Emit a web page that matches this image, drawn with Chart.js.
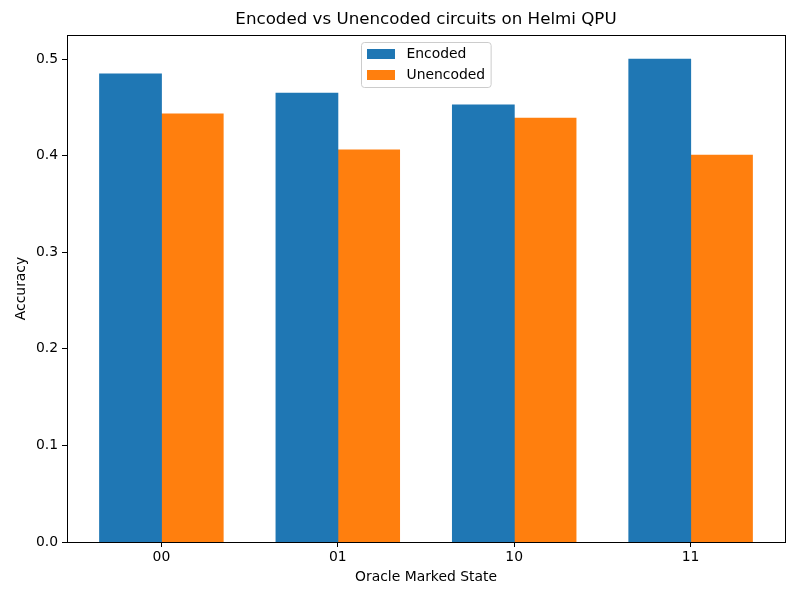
<!DOCTYPE html>
<html>
<head>
<meta charset="utf-8">
<script src="https://cdn.jsdelivr.net/npm/chart.js@4/dist/chart.umd.min.js"></script>
<style>
  html, body { margin: 0; padding: 0; background: #fff; }
  #wrap { width: 800px; height: 600px; }
</style>
</head>
<body>
<div id="wrap"><canvas id="grafico" width="800" height="600"></canvas></div>
<script>
const estados = ['00', '01', '10', '11'];
const codificado = [0.4845, 0.4648, 0.4524, 0.5000];
const naoCodificado = [0.4431, 0.4058, 0.4389, 0.4006];
const ticksY = [0.0, 0.1, 0.2, 0.3, 0.4, 0.5];
const titulo = 'Encoded vs Unencoded circuits on Helmi QPU';

const fonte = 'DejaVu Sans';

// moldura completa e titulo centrado sobre a area do grafico (estilo matplotlib)
const moldura = {
    id: 'moldura',
    afterDatasetsDraw(chart) {
        const { ctx, chartArea: a } = chart;
        ctx.save();
        ctx.strokeStyle = '#000';
        ctx.lineWidth = 1;
        ctx.strokeRect(Math.round(a.left) + 0.5, Math.round(a.top) + 0.5,
            Math.round(a.right - a.left), Math.round(a.bottom - a.top));
        ctx.fillStyle = '#000';
        ctx.font = `16.7px "${fonte}"`;
        ctx.textAlign = 'center';
        ctx.textBaseline = 'middle';
        ctx.fillText(titulo, (a.left + a.right) / 2, 20);
        ctx.restore();
    }
};

// legenda dentro da area, no topo e centralizada
const legenda = {
    id: 'legendaInterna',
    afterDraw(chart) {
        const { ctx, chartArea: a } = chart;
        const itens = chart.data.datasets;
        ctx.save();
        ctx.font = `13.9px "${fonte}"`;
        const larguraTexto = Math.max(...itens.map(d => ctx.measureText(d.label).width));
        const largura = 45 + larguraTexto + 6;
        const altura = 45;
        const x = Math.round((a.left + a.right) / 2 - largura / 2) + 0.5;
        const y = Math.round(a.top + 7) + 0.5;
        ctx.fillStyle = 'rgba(255,255,255,0.8)';
        ctx.strokeStyle = '#cccccc';
        ctx.lineWidth = 1;
        ctx.beginPath();
        ctx.roundRect(x, y, largura, altura, 3);
        ctx.fill();
        ctx.stroke();
        itens.forEach((d, i) => {
            const cy = y + 11.5 + i * 21;
            ctx.fillStyle = d.backgroundColor;
            ctx.fillRect(x + 5.5, cy - 5, 28, 10);
            ctx.fillStyle = '#000';
            ctx.textBaseline = 'middle';
            ctx.textAlign = 'left';
            ctx.fillText(d.label, x + 45, cy);
        });
        ctx.restore();
    }
};

new Chart(document.getElementById('grafico'), {
    type: 'bar',
    data: {
        datasets: [
            {
                label: 'Encoded',
                data: codificado.map((v, i) => ({ x: i, y: v })),
                backgroundColor: '#1f77b4',
                borderWidth: 0,
                inflateAmount: 0.5
            },
            {
                label: 'Unencoded',
                data: naoCodificado.map((v, i) => ({ x: i, y: v })),
                backgroundColor: '#ff7f0e',
                borderWidth: 0,
                inflateAmount: 0.5
            }
        ]
    },
    options: {
        responsive: false,
        animation: false,
        devicePixelRatio: 1,
        categoryPercentage: 0.7,
        barPercentage: 1.0,
        layout: { padding: { left: 0, right: 15, top: 35, bottom: 0 } },
        plugins: {
            legend: { display: false },
            tooltip: { enabled: false },
            title: { display: false }
        },
        scales: {
            x: {
                type: 'linear',
                offset: false,
                min: -0.535,
                max: 3.535,
                afterBuildTicks: escala => { escala.ticks = estados.map((_, i) => ({ value: i })); },
                afterFit: escala => { escala.height = 58; },
                border: { display: true, color: '#000', width: 1 },
                grid: { display: true, drawOnChartArea: false, drawTicks: true, tickLength: 5, color: '#000', offset: false },
                ticks: {
                    color: '#000',
                    padding: 2,
                    autoSkip: false,
                    maxRotation: 0,
                    font: { family: fonte, size: 13.9 },
                    callback: valor => estados[valor] ?? ''
                },
                title: {
                    display: true,
                    text: 'Oracle Marked State',
                    color: '#000',
                    font: { family: fonte, size: 13.9 },
                    padding: { top: 0, bottom: 14 }
                }
            },
            y: {
                min: 0,
                max: 0.525,
                afterBuildTicks: escala => { escala.ticks = ticksY.map(v => ({ value: v })); },
                afterFit: escala => { escala.width = 67; },
                border: { display: true, color: '#000', width: 1 },
                grid: { display: true, drawOnChartArea: false, drawTicks: true, tickLength: 5, color: '#000' },
                ticks: {
                    color: '#000',
                    padding: 4,
                    font: { family: fonte, size: 13.9 },
                    callback: valor => Number(valor).toFixed(1)
                },
                title: {
                    display: true,
                    text: 'Accuracy',
                    color: '#000',
                    font: { family: fonte, size: 13.9 },
                    padding: { top: 13, bottom: 0 }
                }
            }
        }
    },
    plugins: [moldura, legenda]
});
</script>
</body>
</html>
